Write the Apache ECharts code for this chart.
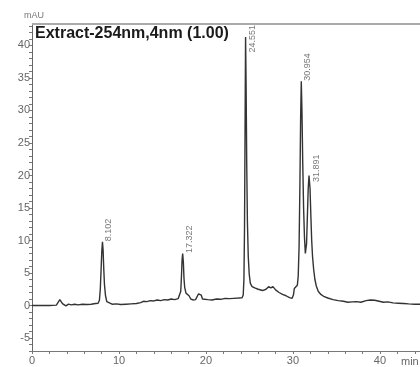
<!DOCTYPE html>
<html>
<head>
<meta charset="utf-8">
<script src="https://cdn.jsdelivr.net/npm/echarts@6/dist/echarts.min.js"></script>
<style>
  html, body { margin: 0; padding: 0; background: #fff; }
  #chart { width: 420px; height: 367px; }
</style>
</head>
<body>
<div id="chart"></div>
<script>
// retention time (min) and detector signal (mAU)
var times = [
  0, 1.0, 2.0, 2.8, 3.0, 3.2, 3.35, 3.5, 3.7, 3.9, 4.2, 4.5, 4.9, 5.3, 5.8, 6.3, 6.8, 7.3,
  7.6, 7.75, 7.85, 7.95, 8.03, 8.1, 8.17, 8.25, 8.33, 8.45, 8.6, 8.8,
  9.2, 9.7, 10.2, 10.8, 11.4, 12.0, 12.5, 12.8, 13.2, 13.6, 14.0, 14.4, 14.8, 15.2, 15.6, 16.0, 16.4, 16.8,
  17.0, 17.1, 17.18, 17.25, 17.32, 17.4, 17.47, 17.55, 17.7, 17.85, 18.05, 18.25, 18.5, 18.8,
  19.0, 19.15, 19.3, 19.45, 19.6, 19.8, 20.2, 20.7, 21.2, 21.7, 22.2, 22.7, 23.2, 23.7,
  24.15, 24.28, 24.36, 24.43, 24.49, 24.55, 24.61, 24.68, 24.76, 24.86, 24.97, 25.1, 25.3,
  25.6, 26.0, 26.5, 26.9, 27.2, 27.45, 27.7, 28.0, 28.4, 28.8, 29.2, 29.6, 29.9,
  30.05, 30.15, 30.3, 30.5, 30.6, 30.7, 30.8, 30.88, 30.954, 31.03, 31.12, 31.22, 31.32, 31.42, 31.48,
  31.56, 31.65, 31.75, 31.84, 31.891, 31.96, 32.05, 32.15, 32.25, 32.38, 32.52, 32.68, 32.9,
  33.2, 33.6, 34.0, 34.6, 35.2, 35.8, 36.3, 36.8, 37.3, 37.8, 38.4, 38.9, 39.4, 39.9,
  40.4, 40.9, 41.5, 42.1, 42.7, 43.3, 44.0, 44.6
];
var signal = [
  0, 0.02, 0, 0.05, 0.35, 0.9, 0.7, 0.3, 0.05, -0.05, 0.2, 0.1, 0.2, 0.1, 0.2, 0.15, 0.2, 0.3,
  0.35, 0.8, 2.5, 5.8, 8.5, 9.8, 8.6, 5.6, 3.2, 1.5, 0.6, 0.3,
  0.2, 0.25, 0.15, 0.2, 0.25, 0.3, 0.45, 0.65, 0.6, 0.75, 0.7, 0.85, 0.75, 0.9, 0.85, 1.0, 0.9, 1.05,
  1.3, 2.2, 4.5, 7.0, 8.0, 6.6, 4.2, 2.8, 1.9, 1.6, 1.5, 1.0, 0.85, 0.9,
  1.2, 1.8, 2.1, 1.6, 1.0, 0.8, 0.9, 0.85, 1.0, 0.95, 1.1, 1.05, 1.1, 1.15,
  1.2, 1.6, 4.0, 12, 27, 41.3, 34, 22, 13, 7.5, 4.8, 3.4, 2.9,
  2.7, 2.5, 2.3, 2.5, 2.9, 2.7, 2.9, 2.4, 2.0, 1.7, 1.5, 1.2, 1.1,
  1.6, 2.6, 2.9, 3.1, 4.5, 9, 19, 29, 34.5, 30, 22, 15, 10.5, 8, 7.7,
  9.5, 13.5, 18, 20, 20, 18, 14, 10, 7.5, 5.5, 4.0, 3.0, 2.2,
  1.7, 1.35, 1.15, 0.9, 0.75, 0.65, 0.5, 0.55, 0.6, 0.5, 0.75, 0.85, 0.8, 0.65,
  0.5, 0.55, 0.4, 0.35, 0.3, 0.25, 0.2, 0.2
];

// integrated peaks
var peakTimes = [8.102, 17.322, 24.551, 30.954, 31.891];
var peakHeights = [9.8, 8.0, 41.3, 34.5, 20];
var peakNames = ["8.102", "17.322", "24.551", "30.954", "31.891"];

var yMin = -7;
var yMax = 43.3;

var trace = times.map(function (t, i) { return [t, signal[i]]; });

var peaks = peakTimes.map(function (t, i) {
  var item = { value: [t, peakHeights[i]], name: peakNames[i] };
  // tall peak label is pushed down under the frame top
  if (peakHeights[i] > 40) item.label = { position: [7, 16] };
  if (i === 4) item.label = { position: [8, 7] };
  return item;
});

var myChart = echarts.init(document.getElementById("chart"));

var option = {
  animation: false,
  title: {
    text: "Extract-254nm,4nm (1.00)",
    left: 30,
    top: 21,
    textStyle: {
      fontFamily: "Liberation Sans, Arial, sans-serif",
      fontSize: 16,
      fontWeight: "bold",
      color: "#1a1a1a",
    },
  },
  graphic: [
    {
      type: "text",
      left: 24,
      top: 11,
      style: { text: "mAU", fontSize: 9, fill: "#777", fontFamily: "Liberation Sans, Arial" },
    },
    {
      type: "text",
      left: 401,
      top: 356,
      style: { text: "min", fontSize: 11, fill: "#666", fontFamily: "Liberation Sans, Arial" },
    },
  ],
  grid: {
    left: 32,
    right: 0,
    top: 24,
    bottom: 16,
  },
  xAxis: {
    type: "value",
    min: 0,
    max: 44.6,
    interval: 2,
    splitLine: { show: false },
    axisLine: { onZero: false, lineStyle: { color: "#777", width: 1 } },
    axisTick: { length: 3, lineStyle: { color: "#777" } },
    axisLabel: {
      margin: 4,
      fontSize: 11,
      color: "#666",
      fontFamily: "Liberation Sans, Arial",
      showMaxLabel: false,
      formatter: function (v) {
        return v % 10 === 0 ? v : "";
      },
    },
  },
  yAxis: {
    type: "value",
    min: yMin,
    max: yMax,
    interval: 1,
    splitLine: { show: false },
    axisLine: { show: true, onZero: false, lineStyle: { color: "#666", width: 1 } },
    axisTick: { length: 3, lineStyle: { color: "#777" } },
    axisLabel: {
      margin: 2,
      fontSize: 11,
      color: "#666",
      fontFamily: "Liberation Sans, Arial",
      showMaxLabel: false,
      formatter: function (v) {
        return Math.abs(v % 5) < 1e-6 ? v : "";
      },
    },
  },
  series: [
    {
      type: "line",
      data: trace,
      showSymbol: false,
      lineStyle: { color: "#333", width: 1.4 },
      // frame line along the top of the plot
      markLine: {
        silent: true,
        symbol: "none",
        label: { show: false },
        lineStyle: { color: "#aaa", width: 2, type: "solid" },
        data: [{ yAxis: yMax }],
      },
    },
    {
      type: "scatter",
      data: peaks,
      symbolSize: 1,
      itemStyle: { color: "transparent" },
      label: {
        show: true,
        formatter: "{b}",
        rotate: 90,
        position: [7, 0],
        align: "left",
        verticalAlign: "middle",
        fontSize: 9,
        color: "#555",
        fontFamily: "Liberation Sans, Arial",
      },
    },
  ],
};

myChart.setOption(option, true);
</script>
</body>
</html>
